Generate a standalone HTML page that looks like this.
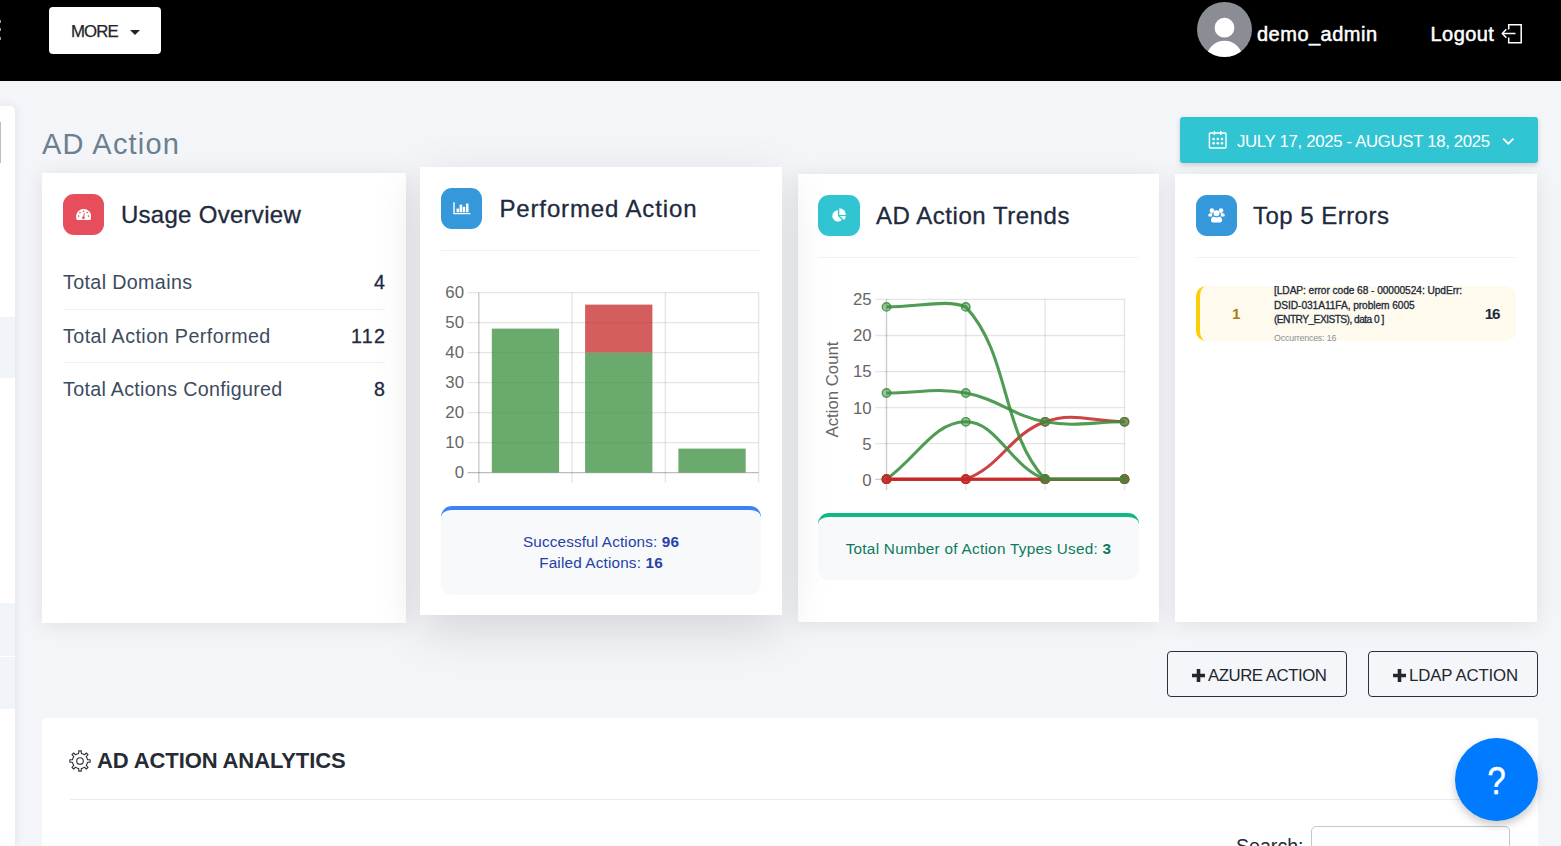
<!DOCTYPE html>
<html lang="en">
<head>
<meta charset="utf-8">
<title>AD Action</title>
<style>
*{box-sizing:border-box;margin:0;padding:0}
html,body{width:1561px;height:846px;overflow:hidden}
body{background:#f4f5f9;font-family:"Liberation Sans",sans-serif;color:#1e293b;position:relative}
.abs{position:absolute}
.t{position:absolute;white-space:nowrap;line-height:1}
/* header */
#topbar{position:absolute;left:0;top:0;width:1561px;height:81px;background:#000}
#more{position:absolute;left:49px;top:7px;width:112px;height:47px;background:#fff;border-radius:4px}
/* sidebar sliver */
#side{position:absolute;left:0;top:106px;width:15px;height:740px;background:#fff;border-top-right-radius:5px;box-shadow:0 0 9px rgba(40,50,80,.10)}
#side i{position:absolute;left:0;width:15px;background:#f1f5f9;display:block}
/* cards */
.card{position:absolute;background:#fff;box-shadow:0 2px 20px rgba(0,0,0,.09)}
.ib{position:absolute;width:41px;height:41px;border-radius:11px}
.hr{position:absolute;height:1px;background:#eff1f4}
.info{position:absolute;background:#f8f9fb;border-radius:11px;border-top:4px solid var(--c);text-align:center}
.btn{position:absolute;top:651px;height:46px;border:1px solid #2b3038;border-radius:4px;background:#f5f6fa}
</style>
</head>
<body>

<!-- ===== top bar ===== -->
<div id="topbar">
  <div class="abs" style="left:0;top:20px;width:1px;height:3px;background:#8f9bab"></div>
  <div class="abs" style="left:0;top:28px;width:1px;height:3px;background:#8f9bab"></div>
  <div class="abs" style="left:0;top:37px;width:1px;height:3px;background:#8f9bab"></div>
  <div id="more">
    <span class="t" id="t_more" style="left:22px;top:17px;letter-spacing:-.9px;-webkit-text-stroke:.25px #212529;font-size:16.8px;color:#212529">MORE</span>
    <svg class="abs" style="left:81px;top:23px" width="10" height="5" viewBox="0 0 10 5"><path d="M0 0H10L5 5Z" fill="#212529"/></svg>
  </div>
  <svg class="abs" style="left:1197px;top:2px" width="55" height="55" viewBox="0 0 55 55">
    <defs><clipPath id="avc"><circle cx="27.5" cy="27.5" r="27.5"/></clipPath></defs>
    <circle cx="27.5" cy="27.5" r="27.5" fill="#8a8d93"/>
    <circle cx="27.5" cy="25.7" r="9.9" fill="#fff"/>
    <circle cx="27.5" cy="56.7" r="18" fill="#fff" clip-path="url(#avc)"/>
  </svg>
  <span class="t" id="t_user" style="left:1257px;top:24px;letter-spacing:.49px;-webkit-text-stroke:.5px #fff;font-size:20px;font-weight:400;color:#fff">demo_admin</span>
  <span class="t" id="t_logout" style="left:1430.5px;top:24px;letter-spacing:.44px;-webkit-text-stroke:.5px #fff;font-size:20px;font-weight:400;color:#fff">Logout</span>
  <svg class="abs" style="left:1500px;top:22px" width="24" height="24" viewBox="0 0 24 24" fill="none" stroke="#fff" stroke-width="1.5">
    <path d="M8.7 7.5V2.7H21.2V20.7H8.7V15.5"/>
    <path d="M15.5 11.5H2.5M6.3 7.3L2.3 11.5L6.3 15.7"/>
  </svg>
</div>

<!-- ===== sidebar sliver ===== -->
<div id="side">
  <div class="abs" style="left:0;top:16px;width:1px;height:41px;background:#bdbdbd"></div>
  <i style="top:211px;height:61px"></i>
  <i style="top:497px;height:53px"></i>
  <i style="top:551px;height:52px"></i>
</div>

<!-- ===== page title + date range ===== -->
<span class="t" id="t_title" style="left:42px;top:129.5px;letter-spacing:1.2px;font-size:29px;color:#6b7f8f">AD Action</span>

<div class="abs" id="datebtn" style="left:1180px;top:117px;width:358px;height:46px;background:#31c4d3;border-radius:3px;box-shadow:0 2px 5px rgba(0,0,0,.16)">
  <svg class="abs" style="left:28px;top:13px" width="20" height="20" viewBox="0 0 20 20" fill="none" stroke="#fff" stroke-width="1.4">
    <rect x="1.4" y="3" width="16.6" height="15" rx="1"/>
    <path d="M6.4 1V5M12.8 1V5"/>
    <g fill="#fff" stroke="none"><circle cx="5.6" cy="9" r="1.3"/><circle cx="9.8" cy="9" r="1.3"/><circle cx="14" cy="9" r="1.3"/><circle cx="5.6" cy="13.3" r="1.3"/><circle cx="9.8" cy="13.3" r="1.3"/><circle cx="14" cy="13.3" r="1.3"/></g>
  </svg>
  <span class="t" id="t_date" style="left:57px;top:17px;letter-spacing:-.33px;font-size:16.8px;color:#fff">JULY 17, 2025 - AUGUST 18, 2025</span>
  <svg class="abs" style="left:322px;top:20px" width="13" height="9" viewBox="0 0 13 9" fill="none" stroke="#fff" stroke-width="1.7"><path d="M1.2 1.6L6.3 6.7L11.4 1.6"/></svg>
</div>

<!-- ===== card 1 : Usage Overview ===== -->
<div class="card" id="c1" style="left:42px;top:173px;width:364px;height:450px">
  <div class="ib" style="left:21px;top:21px;background:#e64e5c">
    <svg class="abs" style="left:12.9px;top:14.8px" width="15.4" height="11.3" viewBox="0 0 15.4 11.3">
      <path d="M0.95 11.2A7.65 7.65 0 1 1 14.45 11.2Z" fill="#fff"/>
      <g fill="#e64e5c"><circle cx="7.6" cy="2.3" r=".8"/><circle cx="4" cy="3.6" r=".8"/><circle cx="11.2" cy="3.6" r=".8"/><circle cx="2.6" cy="7.1" r=".8"/><circle cx="12.5" cy="7.1" r=".8"/><circle cx="7.4" cy="8.8" r="1.35"/><path d="M6.9 8.4L8 4L8.8 4.2L8 9Z"/></g>
    </svg>
  </div>
  <span class="t" id="t_c1" style="-webkit-text-stroke:.3px #1e2a3e;letter-spacing:.29px;left:78.9px;top:30px;font-size:24px;color:#1e2a3e">Usage Overview</span>
  <span class="t row" id="t_r1" style="letter-spacing:.36px;left:21px;top:99.5px;font-size:19.7px;color:#3d4b60">Total Domains</span>
  <span class="t val" id="t_v1" style="-webkit-text-stroke:.3px #1e2a3e;right:21px;top:100px;font-size:19.6px;font-weight:400;color:#1e2a3e">4</span>
  <div class="hr" style="left:21px;top:136px;width:322px"></div>
  <span class="t row" id="t_r2" style="letter-spacing:.44px;left:21px;top:153.5px;font-size:19.7px;color:#3d4b60">Total Action Performed</span>
  <span class="t val" id="t_v2" style="-webkit-text-stroke:.3px #1e2a3e;letter-spacing:1.4px;right:19.6px;top:154px;font-size:19.6px;font-weight:400;color:#1e2a3e">112</span>
  <div class="hr" style="left:21px;top:189px;width:322px"></div>
  <span class="t row" id="t_r3" style="letter-spacing:.30px;left:21px;top:206.5px;font-size:19.7px;color:#3d4b60">Total Actions Configured</span>
  <span class="t val" id="t_v3" style="-webkit-text-stroke:.3px #1e2a3e;right:21px;top:207px;font-size:19.6px;font-weight:400;color:#1e2a3e">8</span>
</div>

<!-- ===== card 3 : AD Action Trends ===== -->
<div class="card" id="c3" style="left:798px;top:174px;width:361px;height:448px">
  <div class="ib" style="left:20px;top:21px;width:42px;background:#31c4d2">
    <svg class="abs" style="left:13.5px;top:12.5px" width="15" height="15" viewBox="0 0 15 15" fill="#fff">
      <path d="M5.95 2.3V7.95L9.95 11.95A5.65 5.65 0 1 1 5.95 2.3Z"/>
      <path d="M7.3 0.3A6.6 6.6 0 0 1 13.9 6.9H7.3Z"/>
      <path d="M7.9 7.9H13.7A5.8 5.8 0 0 1 12 12Z"/>
    </svg>
  </div>
  <span class="t" id="t_c3" style="-webkit-text-stroke:.3px #1e2a3e;letter-spacing:.53px;left:78px;top:30px;font-size:24px;color:#1e2a3e">AD Action Trends</span>
  <div class="hr" style="left:20px;top:83px;width:321px"></div>
  <svg class="abs" style="left:0;top:0" width="361" height="448" viewBox="798 174 361 448" font-family="Liberation Sans, sans-serif">
<g stroke-width="1.4" fill="none">
<path d="M875.2 479.4H1124.5" stroke="rgba(0,0,0,.2)"/>
<path d="M875.2 443.6H1124.5" stroke="rgba(0,0,0,.1)"/>
<path d="M875.2 407.6H1124.5" stroke="rgba(0,0,0,.1)"/>
<path d="M875.2 371.6H1124.5" stroke="rgba(0,0,0,.1)"/>
<path d="M875.2 335.5H1124.5" stroke="rgba(0,0,0,.1)"/>
<path d="M875.2 299.4H1124.5" stroke="rgba(0,0,0,.1)"/>
<path d="M886.5 299V490.2" stroke="rgba(0,0,0,.2)"/>
<path d="M965.8 299V490.2" stroke="rgba(0,0,0,.1)"/>
<path d="M1045.1 299V490.2" stroke="rgba(0,0,0,.1)"/>
<path d="M1124.5 299V490.2" stroke="rgba(0,0,0,.1)"/>
</g>
<g font-size="16.8" fill="#666" text-anchor="end">
<text x="871.6" y="485.6">0</text>
<text x="871.6" y="449.5">5</text>
<text x="871.6" y="413.5">10</text>
<text x="871.6" y="377.4">15</text>
<text x="871.6" y="341.4">20</text>
<text x="871.6" y="305.3">25</text>
</g>
<text font-size="16.8" fill="#666" text-anchor="middle" transform="translate(838.2 389.5) rotate(-90)">Action Count</text>
<path d="M886.50 479.20 C918.22 479.20 937.41 479.20 965.80 479.20 C1000.85 466.51 1010.05 434.45 1045.10 421.76 C1073.53 411.47 1092.74 421.76 1124.50 421.76" fill="none" stroke="rgba(198,40,40,.88)" stroke-width="3.1" stroke-linejoin="round"/>
<circle cx="886.5" cy="479.2" r="4.2" fill="rgba(198,40,40,.5)" stroke="rgba(198,40,40,.88)" stroke-width="1.4"/>
<circle cx="965.8" cy="479.2" r="4.2" fill="rgba(198,40,40,.5)" stroke="rgba(198,40,40,.88)" stroke-width="1.4"/>
<circle cx="1045.1" cy="421.8" r="4.2" fill="rgba(198,40,40,.5)" stroke="rgba(198,40,40,.88)" stroke-width="1.4"/>
<circle cx="1124.5" cy="421.8" r="4.2" fill="rgba(198,40,40,.5)" stroke="rgba(198,40,40,.88)" stroke-width="1.4"/>
<path d="M886.50 479.20 C918.22 456.22 934.08 421.76 965.80 421.76 C997.52 421.76 1010.05 466.51 1045.10 479.20 C1073.53 479.20 1092.74 479.20 1124.50 479.20" fill="none" stroke="rgba(56,142,60,.88)" stroke-width="3.1" stroke-linejoin="round"/>
<circle cx="886.5" cy="479.2" r="4.2" fill="rgba(56,142,60,.5)" stroke="rgba(56,142,60,.88)" stroke-width="1.4"/>
<circle cx="965.8" cy="421.8" r="4.2" fill="rgba(56,142,60,.5)" stroke="rgba(56,142,60,.88)" stroke-width="1.4"/>
<circle cx="1045.1" cy="479.2" r="4.2" fill="rgba(56,142,60,.5)" stroke="rgba(56,142,60,.88)" stroke-width="1.4"/>
<circle cx="1124.5" cy="479.2" r="4.2" fill="rgba(56,142,60,.5)" stroke="rgba(56,142,60,.88)" stroke-width="1.4"/>
<path d="M886.50 479.20 C918.22 479.20 934.08 479.20 965.80 479.20 C997.52 479.20 1013.38 479.20 1045.10 479.20 C1076.86 479.20 1092.74 479.20 1124.50 479.20" fill="none" stroke="rgba(198,40,40,.88)" stroke-width="3.1" stroke-linejoin="round"/>
<circle cx="886.5" cy="479.2" r="4.2" fill="rgba(198,40,40,.5)" stroke="rgba(198,40,40,.88)" stroke-width="1.4"/>
<circle cx="965.8" cy="479.2" r="4.2" fill="rgba(198,40,40,.5)" stroke="rgba(198,40,40,.88)" stroke-width="1.4"/>
<circle cx="1045.1" cy="479.2" r="4.2" fill="rgba(198,40,40,.5)" stroke="rgba(198,40,40,.88)" stroke-width="1.4"/>
<circle cx="1124.5" cy="479.2" r="4.2" fill="rgba(198,40,40,.5)" stroke="rgba(198,40,40,.88)" stroke-width="1.4"/>
<path d="M886.50 393.04 C918.22 393.04 935.06 387.47 965.80 393.04 C998.50 398.96 1012.40 415.84 1045.10 421.76 C1075.88 427.33 1092.74 421.76 1124.50 421.76" fill="none" stroke="rgba(56,142,60,.88)" stroke-width="3.1" stroke-linejoin="round"/>
<circle cx="886.5" cy="393.0" r="4.2" fill="rgba(56,142,60,.5)" stroke="rgba(56,142,60,.88)" stroke-width="1.4"/>
<circle cx="965.8" cy="393.0" r="4.2" fill="rgba(56,142,60,.5)" stroke="rgba(56,142,60,.88)" stroke-width="1.4"/>
<circle cx="1045.1" cy="421.8" r="4.2" fill="rgba(56,142,60,.5)" stroke="rgba(56,142,60,.88)" stroke-width="1.4"/>
<circle cx="1124.5" cy="421.8" r="4.2" fill="rgba(56,142,60,.5)" stroke="rgba(56,142,60,.88)" stroke-width="1.4"/>
<path d="M886.50 479.20 C918.22 479.20 934.08 479.20 965.80 479.20 C997.52 479.20 1013.38 479.20 1045.10 479.20 C1076.86 479.20 1092.74 479.20 1124.50 479.20" fill="none" stroke="rgba(198,40,40,.88)" stroke-width="3.1" stroke-linejoin="round"/>
<circle cx="886.5" cy="479.2" r="4.2" fill="rgba(198,40,40,.5)" stroke="rgba(198,40,40,.88)" stroke-width="1.4"/>
<circle cx="965.8" cy="479.2" r="4.2" fill="rgba(198,40,40,.5)" stroke="rgba(198,40,40,.88)" stroke-width="1.4"/>
<circle cx="1045.1" cy="479.2" r="4.2" fill="rgba(198,40,40,.5)" stroke="rgba(198,40,40,.88)" stroke-width="1.4"/>
<circle cx="1124.5" cy="479.2" r="4.2" fill="rgba(198,40,40,.5)" stroke="rgba(198,40,40,.88)" stroke-width="1.4"/>
<path d="M886.50 306.88 C918.22 306.88 947.10 299.00 965.80 306.88 C1010.54 355.49 1000.35 430.61 1045.10 479.20 C1063.83 479.20 1092.74 479.20 1124.50 479.20" fill="none" stroke="rgba(56,142,60,.88)" stroke-width="3.1" stroke-linejoin="round"/>
<circle cx="886.5" cy="306.9" r="4.2" fill="rgba(56,142,60,.5)" stroke="rgba(56,142,60,.88)" stroke-width="1.4"/>
<circle cx="965.8" cy="306.9" r="4.2" fill="rgba(56,142,60,.5)" stroke="rgba(56,142,60,.88)" stroke-width="1.4"/>
<circle cx="1045.1" cy="479.2" r="4.2" fill="rgba(56,142,60,.5)" stroke="rgba(56,142,60,.88)" stroke-width="1.4"/>
<circle cx="1124.5" cy="479.2" r="4.2" fill="rgba(56,142,60,.5)" stroke="rgba(56,142,60,.88)" stroke-width="1.4"/>
</svg>
  <div class="info" style="left:20px;top:339px;width:321px;height:67px;--c:#10b981">
    <span class="t" id="t_i3" style="letter-spacing:.28px;left:0;right:0;top:24px;font-size:15.3px;color:#0d7a60;text-align:center">Total Number of Action Types Used: <b>3</b></span>
  </div>
</div>

<!-- ===== card 4 : Top 5 Errors ===== -->
<div class="card" id="c4" style="left:1175px;top:174px;width:362px;height:448px">
  <div class="ib" style="left:21px;top:21px;background:#3498db">
    <svg class="abs" style="left:12px;top:12.5px" width="17" height="15" viewBox="0 0 17 15" fill="#fff">
      <circle cx="3.9" cy="2.6" r="2.3"/><circle cx="13.1" cy="2.6" r="2.3"/>
      <path d="M0.2 7.6Q0.2 5.2 2.4 5.2H4.6Q3.6 6.7 4.3 8.6H1.3Q0.2 8.6 0.2 7.6Z"/>
      <path d="M16.8 7.6Q16.8 5.2 14.6 5.2H12.4Q13.4 6.7 12.7 8.6H15.7Q16.8 8.6 16.8 7.6Z"/>
      <circle cx="8.5" cy="5.2" r="3"/>
      <path d="M2.9 12.6Q2.9 8.7 6 8.7Q8.5 10.2 11 8.7Q14.1 8.7 14.1 12.6Q14.1 14.4 12.3 14.4H4.7Q2.9 14.4 2.9 12.6Z"/>
    </svg>
  </div>
  <span class="t" id="t_c4" style="-webkit-text-stroke:.3px #1e2a3e;letter-spacing:.47px;left:78px;top:30px;font-size:24px;color:#1e2a3e">Top 5 Errors</span>
  <div class="hr" style="left:21px;top:83px;width:320px"></div>
  <div class="abs" id="err" style="left:21px;top:112px;width:320px;height:55px;background:#fffaee;border-radius:10px;border-left:4px solid #fbce07;overflow:hidden">
    <span class="t" id="t_rank" style="left:32px;top:20px;font-size:15.2px;font-weight:700;color:#a97e14">1</span>
    <span class="t" id="t_e1" style="letter-spacing:-.07px;-webkit-text-stroke:.3px #20293a;left:74px;top:0px;font-size:10.2px;font-weight:400;color:#20293a">[LDAP: error code 68 - 00000524: UpdErr:</span>
    <span class="t" id="t_e2" style="letter-spacing:-.07px;-webkit-text-stroke:.3px #20293a;left:74px;top:15px;font-size:10.2px;font-weight:400;color:#20293a">DSID-031A11FA, problem 6005</span>
    <span class="t" id="t_e3" style="letter-spacing:-.54px;-webkit-text-stroke:.3px #20293a;left:74px;top:29px;font-size:10.2px;font-weight:400;color:#20293a">(ENTRY_EXISTS), data 0 ]</span>
    <span class="t" id="t_occ" style="letter-spacing:-.16px;left:74px;top:47.6px;font-size:8.8px;color:#8a8f98">Occurrences: 16</span>
    <span class="t" id="t_cnt" style="letter-spacing:-1.2px;left:284.8px;top:20px;font-size:15.2px;font-weight:700;color:#1e2a3e">16</span>
  </div>
</div>

<!-- ===== card 2 : Performed Action (raised / hovered) ===== -->
<div class="card" id="c2" style="left:420px;top:167px;width:362px;height:448px;box-shadow:0 15px 45px rgba(0,0,0,.13)">
  <div class="ib" style="left:21px;top:21px;background:#3498db">
    <svg class="abs" style="left:12px;top:13.5px" width="18" height="13" viewBox="0 0 18 13" fill="#fff">
      <path d="M0.3 0.3H1.7V10.9H17.4V12.3H0.3Z"/>
      <rect x="3.5" y="6.6" width="2.5" height="3.7"/><rect x="6.6" y="2.7" width="2.6" height="7.6"/><rect x="9.8" y="4.8" width="2.3" height="5.5"/><rect x="12.9" y="1.6" width="2.6" height="8.7"/>
    </svg>
  </div>
  <span class="t" id="t_c2" style="-webkit-text-stroke:.3px #1e2a3e;letter-spacing:.87px;left:79.4px;top:30px;font-size:24px;color:#1e2a3e">Performed Action</span>
  <div class="hr" style="left:21px;top:83px;width:320px"></div>
  <svg class="abs" style="left:0;top:0" width="362" height="448" viewBox="420 167 362 448" font-family="Liberation Sans, sans-serif">
<g stroke-width="1.4" fill="none">
<path d="M467.6 472.6H758.6" stroke="rgba(0,0,0,.26)"/>
<path d="M467.6 442.6H758.6" stroke="rgba(0,0,0,.1)"/>
<path d="M467.6 412.6H758.6" stroke="rgba(0,0,0,.1)"/>
<path d="M467.6 382.6H758.6" stroke="rgba(0,0,0,.1)"/>
<path d="M467.6 352.6H758.6" stroke="rgba(0,0,0,.1)"/>
<path d="M467.6 322.6H758.6" stroke="rgba(0,0,0,.1)"/>
<path d="M467.6 292.6H758.6" stroke="rgba(0,0,0,.1)"/>
<path d="M478.8 292.6V482.8" stroke="rgba(0,0,0,.2)"/>
<path d="M572.1 292.6V482.8" stroke="rgba(0,0,0,.1)"/>
<path d="M665.4 292.6V482.8" stroke="rgba(0,0,0,.1)"/>
<path d="M758.6 292.6V482.8" stroke="rgba(0,0,0,.1)"/>
</g>
<g font-size="16.8" fill="#666" text-anchor="end">
<text x="464" y="477.8">0</text>
<text x="464" y="447.8">10</text>
<text x="464" y="417.8">20</text>
<text x="464" y="387.8">30</text>
<text x="464" y="357.8">40</text>
<text x="464" y="327.8">50</text>
<text x="464" y="297.8">60</text>
</g>
<rect x="491.8" y="328.6" width="67.3" height="144.0" fill="rgba(56,142,60,.75)"/>
<rect x="585.1" y="352.6" width="67.3" height="120.0" fill="rgba(56,142,60,.75)"/>
<rect x="585.1" y="304.6" width="67.3" height="48.0" fill="rgba(198,40,40,.75)"/>
<rect x="678.4" y="448.6" width="67.3" height="24.0" fill="rgba(56,142,60,.75)"/>
</svg>
  <div class="info" style="left:21px;top:339px;width:320px;height:89px;--c:#3b82f6">
    <span class="t" id="t_i2a" style="letter-spacing:.14px;left:0;right:0;top:24px;font-size:15.3px;color:#2541a8;text-align:center">Successful Actions: <b>96</b></span>
    <span class="t" id="t_i2b" style="letter-spacing:.16px;left:0;right:0;top:45px;font-size:15.3px;color:#2541a8;text-align:center">Failed Actions: <b>16</b></span>
  </div>
</div>


<!-- ===== action buttons ===== -->
<div class="btn" style="left:1167px;width:180px">
  <svg class="abs" style="left:24px;top:16.5px" width="13" height="13" viewBox="0 0 13 13"><path d="M4.7 0H8.3V4.7H13V8.3H8.3V13H4.7V8.3H0V4.7H4.7Z" fill="#22272e"/></svg>
  <span class="t" id="t_b1" style="letter-spacing:-.46px;left:40px;top:16px;font-size:16.8px;color:#22272e">AZURE ACTION</span>
</div>
<div class="btn" style="left:1368px;width:170px">
  <svg class="abs" style="left:23.5px;top:16.5px" width="13" height="13" viewBox="0 0 13 13"><path d="M4.7 0H8.3V4.7H13V8.3H8.3V13H4.7V8.3H0V4.7H4.7Z" fill="#22272e"/></svg>
  <span class="t" id="t_b2" style="letter-spacing:-.16px;left:40px;top:16px;font-size:16.8px;color:#22272e">LDAP ACTION</span>
</div>

<!-- ===== analytics panel ===== -->
<div class="abs" id="panel" style="left:42px;top:718px;width:1496px;height:140px;background:#fff;border-radius:4px">
  <svg class="abs" style="left:27px;top:32px" width="22" height="22" viewBox="0 0 22 22" fill="none" stroke="#2a2e36" stroke-width="1.1" stroke-linejoin="round">
    <circle cx="11" cy="11" r="3.3"/>
    <path d="M18.19 8.54L18.49 9.69L21.13 9.80L21.13 12.20L18.49 12.31L18.19 13.46L17.83 14.34L17.22 15.37L19.01 17.31L17.31 19.01L15.37 17.22L14.34 17.83L13.46 18.19L12.31 18.49L12.20 21.13L9.80 21.13L9.69 18.49L8.54 18.19L7.66 17.83L6.63 17.22L4.69 19.01L2.99 17.31L4.78 15.37L4.17 14.34L3.81 13.46L3.51 12.31L0.87 12.20L0.87 9.80L3.51 9.69L3.81 8.54L4.17 7.66L4.78 6.63L2.99 4.69L4.69 2.99L6.63 4.78L7.66 4.17L8.54 3.81L9.69 3.51L9.80 0.87L12.20 0.87L12.31 3.51L13.46 3.81L14.34 4.17L15.37 4.78L17.31 2.99L19.01 4.69L17.22 6.63L17.83 7.66Z"/>
  </svg>
  <span class="t" id="t_panel" style="letter-spacing:-.11px;left:55px;top:32px;font-size:22px;font-weight:700;color:#272b33">AD ACTION ANALYTICS</span>
  <div class="hr" style="left:28px;top:81px;width:1440px;background:#e9ebee"></div>
  <span class="t" id="t_search" style="left:1194px;top:119px;font-size:19.6px;color:#272b33">Search:</span>
  <div class="abs" style="left:1269px;top:108px;width:199px;height:40px;border:1px solid #c4c7cc;border-radius:5px;background:#fff"></div>
</div>

<!-- ===== help FAB ===== -->
<div class="abs" id="fab" style="left:1455px;top:738px;width:83px;height:83px;border-radius:50%;background:#007bff;box-shadow:0 4px 10px rgba(0,0,0,.22)">
  <span class="t" id="t_q" style="-webkit-text-stroke:.5px #fff;transform:scaleX(.86);left:0;right:0;top:24px;font-size:38px;color:#fff;text-align:center">?</span>
</div>


</body>
</html>
